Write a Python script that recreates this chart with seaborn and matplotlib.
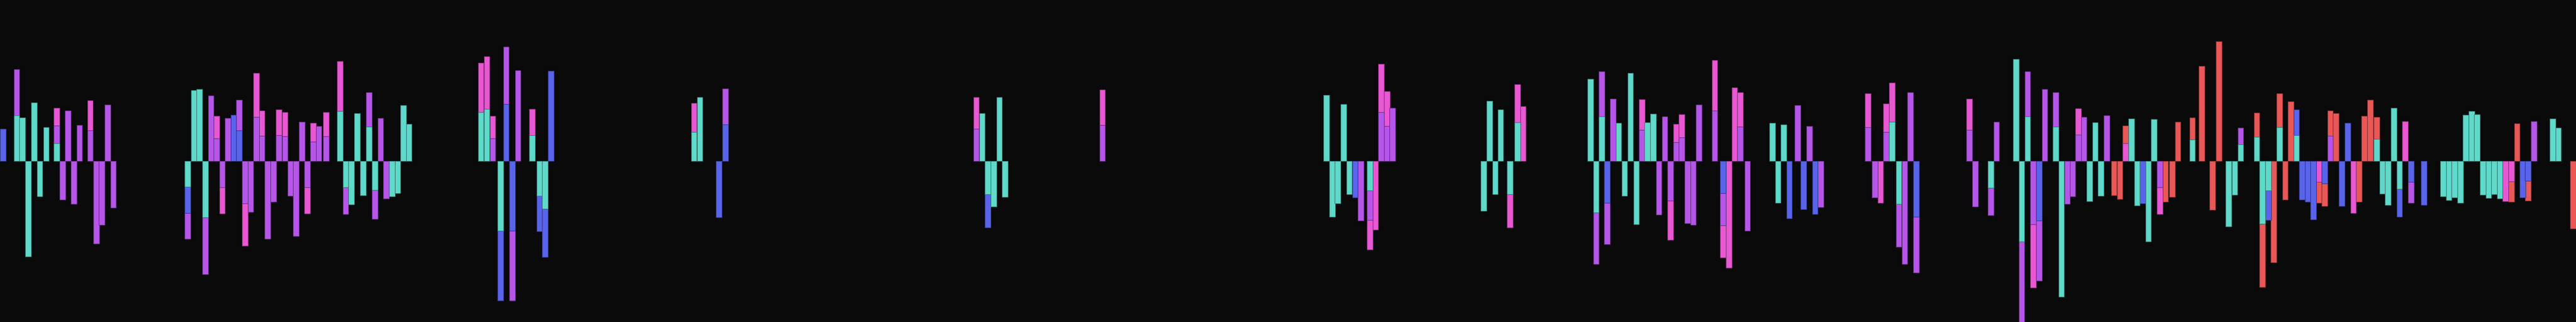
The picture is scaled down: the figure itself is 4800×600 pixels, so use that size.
import numpy as np
import pandas as pd
import matplotlib
matplotlib.use("Agg")
import matplotlib.pyplot as plt
import seaborn as sns

# ---------------- data ----------------
# bar positions (time index, bar centres)
t = [
    0.50, 2.91, 3.90, 4.93, 5.97, 6.98, 8.11, 9.96, 10.97, 11.94,
    12.95, 13.96, 15.85, 16.92, 17.89, 18.90, 19.91, 32.98, 34.08, 35.06,
    36.07, 37.08, 38.05, 39.06, 40.03, 41.03, 42.04, 43.05, 44.06, 45.03,
    46.04, 47.05, 48.05, 49.02, 50.08, 51.04, 52.05, 53.06, 54.02, 55.03,
    56.04, 57.29, 59.75, 60.75, 61.75, 62.76, 63.80, 64.84, 65.87, 66.88,
    67.89, 68.90, 69.91, 70.88, 71.88, 84.54, 85.55, 86.61, 87.95, 88.97,
    90.03, 91.04, 93.54, 94.79, 95.80, 96.81, 121.99, 123.00, 126.37, 127.52,
    171.61, 172.62, 173.63, 174.64, 175.65, 176.66, 193.75, 233.17, 234.18, 235.14,
    236.16, 237.17, 238.18, 239.18, 240.78, 241.79, 242.80, 243.80, 244.77, 260.80,
    261.82, 262.82, 263.78, 265.42, 266.73, 267.74, 279.58, 280.54, 281.55, 282.51,
    283.52, 284.53, 285.54, 286.60, 287.61, 288.61, 289.58, 290.59, 291.60, 292.61,
    293.62, 294.64, 295.59, 296.61, 297.62, 298.63, 301.42, 302.87, 303.88, 304.89,
    305.90, 307.15, 311.54, 312.55, 313.51, 314.52, 315.96, 317.02, 318.03, 319.04,
    320.05, 328.33, 329.54, 330.55, 331.56, 332.58, 333.77, 334.78, 335.79, 336.80,
    346.14, 347.20, 349.94, 350.91, 354.37, 355.38, 356.39, 357.41, 358.42, 359.42,
    361.35, 362.36, 363.37, 364.33, 365.29, 366.31, 367.27, 368.28, 369.29, 370.31,
    371.60, 372.61, 373.62, 374.63, 375.64, 376.65, 377.61, 378.63, 379.64, 380.65,
    381.80, 382.82, 385.37, 387.01, 388.92, 390.03, 391.73, 392.83, 393.84, 396.68,
    397.69, 398.71, 399.66, 400.67, 401.69, 402.65, 403.66, 404.67, 405.63, 406.64,
    407.60, 408.61, 409.62, 410.59, 411.65, 412.66, 413.67, 414.63, 415.59, 416.63,
    417.79, 418.80, 419.77, 420.78, 421.79, 422.79, 423.80, 426.04, 429.46, 430.47,
    431.47, 432.48, 433.45, 434.46, 435.43, 436.44, 437.44, 438.45, 439.42, 440.43,
    441.44, 442.42, 443.42, 444.39, 445.40, 448.70, 449.71, 452.31,
]

teal = [
    0, 85, 81, -178, 109, -66, 63, 33, 0, 0,
    0, 0, 0, 0, 0, 0, 0, -48, 132, 134,
    -105, 0, 0, 0, 0, 0, 0, 0, 0, 0,
    0, 0, 0, 0, 0, 0, 0, 0, 0, 0,
    0, 0, 93, -49, -81, 89, -64, 64, -54, 0,
    0, -66, -60, 104, 69, 91, 97, 0, -130, 0,
    0, 0, 48, -65, -89, 0, 54, 119, 0, 0,
    0, 89, -62, -85, 119, -67, 0, 123, -104, -79,
    106, -62, 0, 0, -55, 0, 0, 0, 0, -93,
    112, -62, 96, -62, 72, 0, 153, -96, 83, 0,
    0, 71, -65, 164, -118, 0, 72, 88, 0, 0,
    0, 0, 0, 0, 0, 0, 0, 0, 0, 0,
    0, 0, 71, -78, 68, 0, 0, 0, 0, 0,
    0, 0, 0, 0, 0, 73, -80, 0, 0, 0,
    0, 0, -50, 0, 190, -150, 83, 0, 0, 0,
    64, -253, 0, 0, 0, 0, -75, 72, -65, 0,
    0, 0, 0, 79, -83, 0, -150, 78, 0, 0,
    0, 0, 40, 0, 0, 0, -122, -63, 31, 45,
    -117, -55, 0, 63, 0, 0, 48, 0, 0, 0,
    0, 0, 0, 0, 0, 0, 0, 0, 0, 0,
    41, -61, -82, 99, -52, 0, 0, 0, -66, -73,
    -68, -78, 86, 93, 87, -63, -69, -62, -70, 0,
    0, 0, 0, 0, 0, 79, 62, 0,
]

blue = [
    60, 0, 0, 0, 0, 0, 0, 0, 0, 0,
    0, 0, 0, 0, 0, 0, 0, -49, 0, 0,
    0, 0, 0, 0, 0, 86, 57, 0, 0, 0,
    0, 0, 0, 0, 0, 0, 0, 0, 0, 0,
    0, 0, 0, 0, 0, 0, 0, 0, 0, 0,
    0, 0, 0, 0, 0, 0, 0, 0, -130, 106,
    -130, 0, 0, -66, -90, 168, 0, 0, -105, 68,
    0, 0, -62, 0, 0, 0, 0, 0, 0, 0,
    0, 0, -68, 0, 0, 0, 0, 0, 0, 0,
    0, 0, 0, 0, 0, 0, 0, 0, 0, -78,
    0, 0, 0, 0, 0, 0, 0, 0, 0, 0,
    0, 0, 0, 0, 0, 0, 0, -60, 0, 0,
    0, 0, 0, 0, 0, -107, 0, -90, 0, -99,
    0, 0, 0, 0, 0, 0, 0, 0, 0, -104,
    0, 0, 0, 0, 0, 0, 0, 0, -111, 0,
    0, 0, 0, 0, 0, 0, 0, 0, 0, 0,
    0, 0, 0, 0, 0, -79, 0, 0, 0, 0,
    0, 0, 0, 0, 0, 0, 0, 0, 0, 0,
    0, -55, 0, 0, 0, 0, 48, -72, -76, -109,
    0, -42, 0, 0, -84, 71, 0, 0, 0, 0,
    0, 0, 0, 0, -52, 0, -39, -82, 0, 0,
    0, 0, 0, 0, 0, 0, 0, 0, 0, 0,
    0, 0, -68, -37, 0, 0, 0, 0,
]

purple = [
    0, 86, 0, 0, 0, 0, 0, 33, -72, 94,
    -80, 67, 57, -154, -119, 105, -87, -48, 0, 0,
    -106, 122, 42, -49, 80, 0, 57, -79, -95, 82,
    47, -145, -76, 48, 46, -65, -140, 73, -49, 36,
    65, 46, 0, -50, 0, 0, 0, 64, -54, 80,
    -70, 0, 0, 0, 0, 0, 0, 42, 0, 107,
    -130, 169, 0, 0, 0, 0, 0, 0, 0, 67,
    60, 0, 0, 0, 0, 0, 67, 0, 0, 0,
    0, 0, 0, -111, -55, 0, 91, 65, 99, 0,
    0, 0, 0, 0, 0, 0, 0, -96, 84, -77,
    116, 0, 0, 0, 0, 58, 0, 0, -100, 83,
    -74, 35, 44, -116, -119, 105, 94, -60, 0, 0,
    64, -130, 0, 0, 0, 0, 104, 0, 65, 0,
    -86, 63, -68, 0, 54, 0, -80, -192, 128, -104,
    58, -85, -51, 73, 0, -152, 84, -118, -112, 134,
    64, 0, -80, -66, 49, 82, 0, 0, 0, 85,
    0, 0, 0, 0, 0, 0, 0, 0, -49, 0,
    0, 0, 0, 0, 0, 0, 0, 0, 31, 0,
    0, 0, 0, 0, 0, 0, 0, 0, 0, 0,
    0, 0, 47, 0, 0, 0, 0, 0, 0, 0,
    0, 0, 0, 0, 0, 0, -39, 0, 0, 0,
    0, 0, 0, 0, 0, 0, 0, 0, 0, 0,
    0, 0, 0, 0, 74, 0, 0, 0,
]

pink = [
    0, 0, 0, 0, 0, 0, 0, 33, 0, 0,
    0, 0, 56, 0, 0, 0, 0, 0, 0, 0,
    0, 0, 42, -49, 0, 0, 0, -79, 0, 82,
    47, 0, 0, 48, 45, 0, 0, 0, -49, 35,
    0, 45, 93, 0, 0, 0, 0, 0, 0, 0,
    0, 0, 0, 0, 0, 92, 98, 42, 0, 0,
    0, 0, 49, 0, 0, 0, 54, 0, 0, 0,
    59, 0, 0, 0, 0, 0, 66, 0, 0, 0,
    0, 0, 0, 0, -55, -128, 90, 65, 0, 0,
    0, 0, 0, -62, 71, 102, 0, 0, 0, 0,
    0, 0, 0, 0, 0, 57, 0, 0, 0, 0,
    -73, 34, 43, 0, 0, 0, 94, -60, -199, 137,
    64, 0, 0, 0, 0, 0, 0, 0, 0, 0,
    0, 63, 0, -78, 53, 73, 0, 0, 0, 0,
    58, 0, 0, 0, 0, 0, 0, -118, 0, 0,
    0, 0, 0, 0, 49, 0, 0, 0, 0, 0,
    0, 0, 33, 0, 0, 0, 0, 0, -50, 0,
    0, 0, 0, 0, 0, 0, 0, 0, 0, 0,
    0, 0, 0, 0, 0, 0, 0, 0, 0, 0,
    -39, 0, 0, 0, 0, 0, -97, 0, 0, 0,
    0, 0, 0, 0, 0, 74, 0, 0, 0, 0,
    0, 0, 0, 0, 0, 0, 0, 0, 0, -75,
    -38, 0, 0, 0, 0, 0, 0, 0,
]

red = [
    0, 0, 0, 0, 0, 0, 0, 0, 0, 0,
    0, 0, 0, 0, 0, 0, 0, 0, 0, 0,
    0, 0, 0, 0, 0, 0, 0, 0, 0, 0,
    0, 0, 0, 0, 0, 0, 0, 0, 0, 0,
    0, 0, 0, 0, 0, 0, 0, 0, 0, 0,
    0, 0, 0, 0, 0, 0, 0, 0, 0, 0,
    0, 0, 0, 0, 0, 0, 0, 0, 0, 0,
    0, 0, 0, 0, 0, 0, 0, 0, 0, 0,
    0, 0, 0, 0, 0, 0, 0, 0, 0, 0,
    0, 0, 0, 0, 0, 0, 0, 0, 0, 0,
    0, 0, 0, 0, 0, 0, 0, 0, 0, 0,
    0, 0, 0, 0, 0, 0, 0, 0, 0, 0,
    0, 0, 0, 0, 0, 0, 0, 0, 0, 0,
    0, 0, 0, 0, 0, 0, 0, 0, 0, 0,
    0, 0, 0, 0, 0, 0, 0, 0, 0, 0,
    0, 0, 0, 0, 0, 0, 0, 0, 0, 0,
    -64, -71, 33, 0, 0, 0, 0, 0, 0, -76,
    -67, 73, 41, 177, -91, 223, 0, 0, 0, 45,
    -118, 0, -189, 63, -72, 111, 0, 0, 0, 0,
    -39, -42, 47, 89, 0, 0, 0, -76, 84, 114,
    41, 0, 0, 0, 0, 0, 0, 0, 0, 0,
    0, 0, 0, 0, 0, 0, 0, 0, 0, 0,
    -38, 70, 0, -37, 0, 0, 0, -126,
]

categories = ["teal", "blue", "purple", "pink", "red"]   # stacking order, outward from zero
palette = {
    "teal": "#5fd9c9",
    "blue": "#5964ea",
    "purple": "#b656e9",
    "pink": "#e957d3",
    "red": "#e95757",
}
BG = "#0a0a0a"
Y_LIMIT = 300

# ---------------- plot ----------------
sns.set_theme(style="dark", rc={"axes.facecolor": BG, "figure.facecolor": BG})

df = pd.DataFrame({"t": t, "teal": teal, "blue": blue, "purple": purple,
                   "pink": pink, "red": red})
cum = df[categories].cumsum(axis=1)

fig = plt.figure(figsize=(48, 6), dpi=100, facecolor=BG)
ax = fig.add_axes([0, 0, 1, 1])
ax.set_facecolor(BG)


def darker(hex_color, f=0.55):
    r, g, b = matplotlib.colors.to_rgb(hex_color)
    return (r * f, g * f, b * f)


for cat in reversed(categories):
    mask = df[cat] != 0
    sub = pd.DataFrame({"t": df.loc[mask, "t"].values,
                        "v": cum.loc[mask, cat].values})
    pos = np.sort(sub["t"].unique())
    native = np.min(np.diff(pos)) if len(pos) > 1 else 1.0
    sns.barplot(data=sub, x="t", y="v", orient="x", native_scale=True,
                width=1.0 / native, color=palette[cat], saturation=1,
                edgecolor=darker(palette[cat]), linewidth=0.8,
                errorbar=None, ax=ax)

ax.set_xlim(min(t) - 0.5, max(t) + 0.5)
ax.set_ylim(-Y_LIMIT, Y_LIMIT)
ax.axis("off")

fig.savefig("out.png", dpi=100, facecolor=BG)
